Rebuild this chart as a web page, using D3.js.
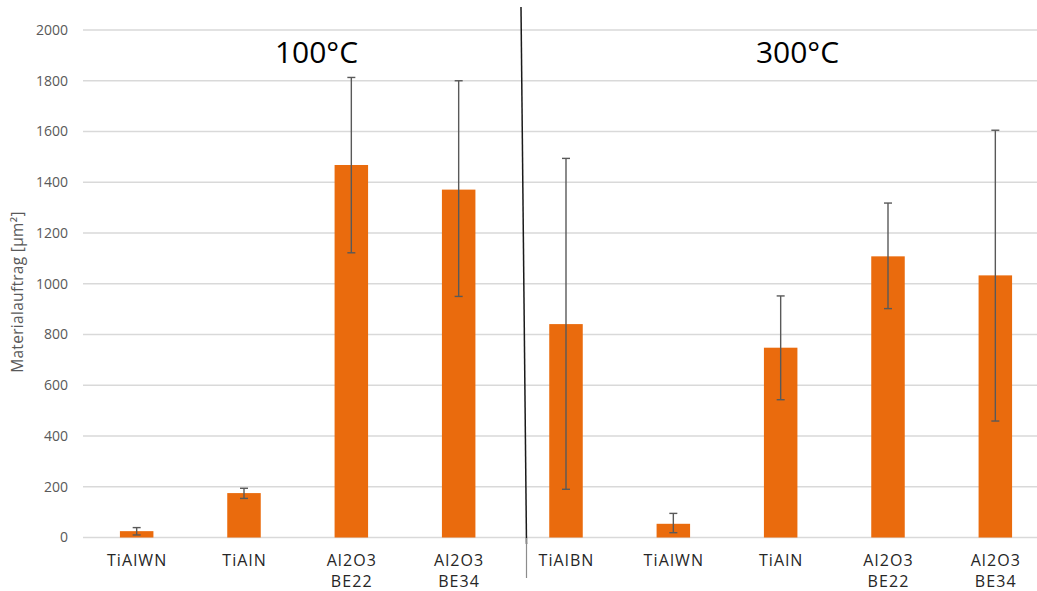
<!DOCTYPE html>
<html>
  <head>
    <meta charset="utf-8">
    <script src="https://d3js.org/d3.v7.min.js"></script>
    <style>
      body { margin: 0; background: #fff; }
      text { font-family: "Open Sans", sans-serif; }
    </style>
  </head>
  <body>
  <div id="svgcontainer"></div>
  <script>
    var width = 1037, height = 591;

    // data
    var categories = [["TiAlWN"], ["TiAlN"], ["Al2O3", "BE22"], ["Al2O3", "BE34"],
                      ["TiAlBN"], ["TiAlWN"], ["TiAlN"], ["Al2O3", "BE22"], ["Al2O3", "BE34"]];
    var values   = [25, 175, 1468, 1371, 841, 54, 748, 1108, 1033];
    var errLow   = [10, 154, 1122, 950, 190, 19, 543, 902, 459];
    var errHigh  = [39, 194, 1813, 1800, 1494, 95, 952, 1318, 1605];
    var yTicks   = [0, 200, 400, 600, 800, 1000, 1200, 1400, 1600, 1800, 2000];
    var groups   = ["100°C", "300°C"];

    var svg = d3.select('#svgcontainer')
      .append('svg')
      .attr('width', width)
      .attr('height', height);

    var x = d3.scaleBand().domain(d3.range(categories.length)).range([83, 1049]);
    var y = d3.scaleLinear().domain([0, 2000]).range([537.5, 30]);
    var barW = 33.5;

    // gridlines
    svg.selectAll('line.grid')
      .data(yTicks)
      .enter()
      .append('line')
      .attr('x1', 83).attr('x2', 1049)
      .attr('y1', function(d) { return y(d); })
      .attr('y2', function(d) { return y(d); })
      .attr('stroke', '#d9d9d9')
      .attr('stroke-width', 1.3);

    // y tick labels
    svg.selectAll('text.ytick')
      .data(yTicks)
      .enter()
      .append('text')
      .attr('x', 68)
      .attr('y', function(d) { return y(d); })
      .attr('dy', '0.35em')
      .attr('text-anchor', 'end')
      .attr('font-size', 14)
      .attr('fill', '#595959')
      .text(function(d) { return d; });

    // y axis title
    svg.append('text')
      .attr('transform', 'translate(23,292) rotate(-90)')
      .attr('text-anchor', 'middle')
      .attr('font-size', 15.5)
      .attr('letter-spacing', 0.3)
      .attr('fill', '#595959')
      .text('Materialauftrag [µm²]');

    // bars
    svg.selectAll('rect.bar')
      .data(values)
      .enter()
      .append('rect')
      .attr('x', function(d, i) { return x(i) + x.bandwidth() / 2 - barW / 2; })
      .attr('y', function(d) { return y(d); })
      .attr('width', barW)
      .attr('height', function(d) { return y(0) - y(d); })
      .attr('fill', '#ea6b0d');

    // error bars
    var cx = function(i) { return x(i) + x.bandwidth() / 2; };
    var eb = svg.selectAll('g.err')
      .data(values)
      .enter()
      .append('g')
      .attr('stroke', '#595959')
      .attr('stroke-width', 1.4);
    eb.append('line')
      .attr('x1', function(d, i) { return cx(i); })
      .attr('x2', function(d, i) { return cx(i); })
      .attr('y1', function(d, i) { return y(errLow[i]); })
      .attr('y2', function(d, i) { return y(errHigh[i]); });
    eb.append('line')
      .attr('x1', function(d, i) { return cx(i) - 4; })
      .attr('x2', function(d, i) { return cx(i) + 4; })
      .attr('y1', function(d, i) { return y(errLow[i]); })
      .attr('y2', function(d, i) { return y(errLow[i]); });
    eb.append('line')
      .attr('x1', function(d, i) { return cx(i) - 4; })
      .attr('x2', function(d, i) { return cx(i) + 4; })
      .attr('y1', function(d, i) { return y(errHigh[i]); })
      .attr('y2', function(d, i) { return y(errHigh[i]); });

    // category labels
    var lab = svg.selectAll('text.xlab')
      .data(categories)
      .enter()
      .append('text')
      .attr('text-anchor', 'middle')
      .attr('font-size', 16)
      .attr('letter-spacing', 1.1)
      .attr('fill', '#262626');
    lab.selectAll('tspan')
      .data(function(d, i) { return d.map(function(t) { return {t: t, i: i}; }); })
      .enter()
      .append('tspan')
      .attr('x', function(d) { return cx(d.i) + 0.5; })
      .attr('y', function(d, j) { return 566 + j * 21; })
      .text(function(d) { return d.t; });

    // divider between temperature groups
    svg.append('line')
      .attr('x1', 521).attr('y1', 7)
      .attr('x2', 526.5).attr('y2', 544)
      .attr('stroke', '#1a1a1a')
      .attr('stroke-width', 1.5);
    svg.append('line')
      .attr('x1', 526.5).attr('y1', 538)
      .attr('x2', 526.5).attr('y2', 578)
      .attr('stroke', '#8c8c8c')
      .attr('stroke-width', 1.2);

    // group titles
    svg.selectAll('text.group')
      .data(groups)
      .enter()
      .append('text')
      .attr('x', function(d, i) { return i === 0 ? 316.5 : 797.5; })
      .attr('y', 63)
      .attr('text-anchor', 'middle')
      .attr('font-size', 30)
      .attr('fill', '#000')
      .text(function(d) { return d; });
  </script>
  </body>
</html>
